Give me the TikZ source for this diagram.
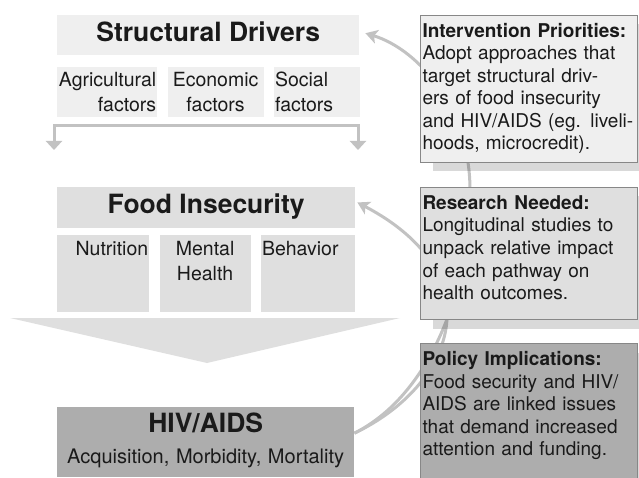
\documentclass[tikz,border=0pt]{standalone}
\usepackage{fontspec}
\setmainfont{TeX Gyre Heros}
\usepackage{tikz}
\usetikzlibrary{arrows.meta,positioning,shadows}
\definecolor{inkgray}{HTML}{1A1A1A}
\definecolor{palegray}{HTML}{EFEFEF}
\definecolor{softgray}{HTML}{DFDFDF}
\definecolor{midgray}{HTML}{ADADAD}
\definecolor{linegray}{HTML}{C2C2C2}
\definecolor{edgegray}{HTML}{878787}

\begin{document}
\begin{tikzpicture}[
  x=1pt,y=-1pt,
  node distance=10pt,
  every node/.style={text=inkgray,inner sep=0pt},
  header/.style={anchor=north west,align=center,text height=26pt,text depth=14pt,
                 font=\fontsize{26.5}{30}\selectfont\bfseries},
  factor/.style={anchor=north west,inner xsep=1pt,text height=20pt,
                 font=\fontsize{19.5}{25}\selectfont},
  note/.style={anchor=north west,draw=edgegray,line width=1pt,align=left,
               text width=213pt,inner xsep=2pt,text height=22pt,
               font=\fontsize{19}{22.5}\selectfont,
               drop shadow={shadow xshift=12pt,shadow yshift=-9pt,fill=black,opacity=.15}},
  link/.style={draw=linegray,line width=3pt,-{Stealth[length=12pt,width=14pt,inset=3pt]}},
  split/.style={draw=linegray,line width=3pt,
                {Triangle[length=9pt,width=16pt]}-{Triangle[length=9pt,width=16pt]}}
]
  \clip (0,0) rectangle (639,478);

  % drivers block
  \node[header,fill=palegray,minimum width=302pt] (drivers) at (57,15) {Structural Drivers};
  \node[factor,fill=palegray,below=11pt of drivers.south west,anchor=north west,
        text width=98pt,text depth=30pt,align=right] (agri) {Agricultural\\factors};
  \node[factor,fill=palegray,right=of agri,text width=94pt,text depth=30pt,
        align=center] (econ) {Economic\\factors};
  \node[factor,fill=palegray,right=of econ,text width=84pt,text depth=30pt,
        align=left] (social) {Social\\factors};

  \coordinate (splitL) at (54,150);
  \coordinate (splitR) at (358,150);
  \draw[split] (splitL) -- ++(0,-24) -| (splitR);

  % food insecurity block
  \node[header,fill=softgray,minimum width=298pt,text height=26.5pt] (food) at (57,187) {Food Insecurity};
  \node[factor,fill=softgray,below=7pt of food.south west,anchor=north west,
        text width=90pt,text depth=57pt,align=right] (nutrition) {Nutrition};
  \node[factor,fill=softgray,right=of nutrition,text width=89pt,text depth=57pt,
        align=center] (mental) {Mental\\Health};
  \node[factor,fill=softgray,right=of mental,text width=92pt,text depth=57pt,
        align=left] (behavior) {Behavior};

  \fill[softgray] (10,318) -- (400,318) -- (207,363) -- cycle;

  \node[header,fill=midgray,text width=297pt,text height=25pt,text depth=45pt,
        font=\fontsize{20}{31}\selectfont] (hiv) at (57,407)
        {{\fontsize{26.5}{31}\selectfont\bfseries HIV/AIDS}\\Acquisition, Morbidity, Mortality};

  % feedback arcs, under the notes
  \coordinate (bend) at (470,190);
  \draw[link] ([yshift=9pt]hiv.east) .. controls (430,395) and (470,290) .. (bend)
    .. controls (470,110) and (420,50) .. ([xshift=6pt,yshift=2pt]drivers.east);
  \draw[link] ([yshift=9pt]hiv.east) .. controls (455,385) and (495,275)
    .. ([xshift=2pt,yshift=5pt]food.east);

  % notes column
  \node[note,fill=palegray,text depth=125pt] (priorities) at (420,15)
    {\textbf{Intervention Priorities:}\\Adopt approaches that\\target structural driv-\\ers of food insecurity\\and HIV/AIDS (eg. liveli-\\hoods, microcredit).};
  \node[note,fill=softgray,text depth=110pt,below=24pt of priorities] (research)
    {\textbf{Research Needed:}\\Longitudinal studies to\\unpack relative impact\\of each pathway on\\health outcomes.};
  \node[note,fill=midgray,text depth=130pt,below=23pt of research] (policy)
    {\textbf{Policy Implications:}\\Food security and HIV/\\AIDS are linked issues\\that demand increased\\attention and funding.};
\end{tikzpicture}
\end{document}
